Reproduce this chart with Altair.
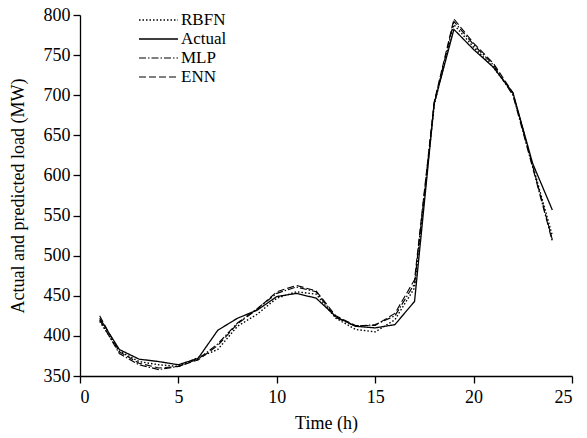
import altair as alt
import pandas as pd

hours = list(range(1, 25))
actual = [422, 383, 371, 368, 364, 372, 407, 422, 432, 449, 453, 447, 424, 412, 410, 414, 443, 690, 782, 757, 735, 703, 615, 557]
enn    = [425, 380, 366, 360, 362, 370, 388, 415, 433, 455, 463, 456, 425, 413, 413, 428, 470, 692, 795, 765, 740, 703, 612, 520]
mlp    = [420, 378, 364, 358, 362, 371, 390, 416, 434, 453, 461, 455, 423, 412, 414, 425, 465, 690, 792, 763, 738, 700, 610, 518]
rbfn   = [418, 381, 368, 364, 362, 373, 383, 412, 427, 447, 455, 452, 422, 408, 405, 420, 460, 688, 788, 760, 735, 702, 613, 525]

order = ["RBFN", "Actual", "MLP", "ENN"]
rows = []
for name, vals in zip(order, [rbfn, actual, mlp, enn]):
    for h, v in zip(hours, vals):
        rows.append({"hour": h, "load": v, "series": name})
df = pd.DataFrame(rows)
legend_df = pd.DataFrame({"series": order})

FONT = "Liberation Serif"
dash_scale = alt.Scale(domain=order, range=[[1.5, 2], [1, 0], [7, 2, 1.5, 2], [7, 3]])
width_scale = alt.Scale(domain=order, range=[1.4, 1.1, 1.9, 2.5])

lines = alt.Chart(df).mark_line(color="black").encode(
    x=alt.X("hour:Q", scale=alt.Scale(domain=[0, 25], nice=False),
            axis=alt.Axis(title="Time (h)", values=[0, 5, 10, 15, 20, 25], tickSize=7,
                          labelPadding=5, titlePadding=8)),
    y=alt.Y("load:Q", scale=alt.Scale(domain=[350, 800], nice=False, zero=False),
            axis=alt.Axis(title="Actual and predicted load (MW)", values=list(range(350, 801, 50)),
                          tickSize=7, labelPadding=3, titlePadding=16)),
    strokeDash=alt.StrokeDash("series:N", scale=dash_scale, legend=None),
    strokeWidth=alt.StrokeWidth("series:N", scale=width_scale, legend=None),
    order="hour:Q",
)

leg_y = alt.Y("series:N", scale=alt.Scale(type="point", domain=order, range=[5, 62], padding=0), axis=None)

leg_rules = alt.Chart(legend_df).mark_rule(color="black").encode(
    x=alt.value(59), x2=alt.value(98), y=leg_y,
    strokeDash=alt.StrokeDash("series:N", scale=dash_scale, legend=None),
    strokeWidth=alt.StrokeWidth("series:N", scale=width_scale, legend=None),
)
leg_text = alt.Chart(legend_df).mark_text(align="left", baseline="middle", font=FONT,
                                          fontSize=17, color="black").encode(
    x=alt.value(101), y=leg_y, text="series:N",
)

chart = alt.layer(lines, leg_rules, leg_text).resolve_scale(y="independent").properties(
    width=492, height=361,
    autosize=alt.AutoSizeParams(type="none"),
    padding={"left": 80, "top": 15, "right": 15, "bottom": 62},
).configure_view(stroke=None).configure_axis(
    grid=False, domainColor="black", tickColor="black", labelColor="black", titleColor="black",
    labelFont=FONT, titleFont=FONT, labelFontSize=18, titleFontSize=18, titleFontWeight="normal",
    domainWidth=1.3, tickWidth=1.3,
)

chart.save("out.html", embed_options={"renderer": "svg", "actions": False})
